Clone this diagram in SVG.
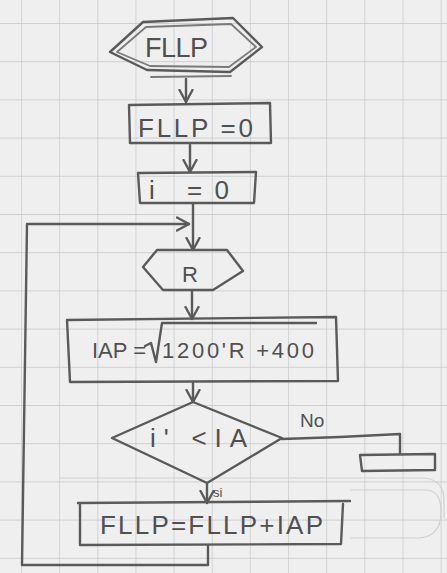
<svg xmlns="http://www.w3.org/2000/svg" width="447" height="573" viewBox="0 0 447 573">
  <defs>
    <pattern id="grid" x="21" y="23" width="38.15" height="38.2" patternUnits="userSpaceOnUse">
      <path d="M0 0 V38.2 M0 0 H38.15" fill="none" stroke="#c3c5c7" stroke-width="1.3"/>
    </pattern>
    <marker id="head" viewBox="0 0 14 16" refX="13" refY="8" markerWidth="14" markerHeight="16" markerUnits="userSpaceOnUse" orient="auto">
      <path d="M1 1.5 L13 8 L1 14.5" fill="none" stroke="#5a5a5a" stroke-width="2.4" stroke-linecap="round" stroke-linejoin="round"/>
    </marker>
  </defs>
  <style>
    .ink { fill: none; stroke: #5a5a5a; stroke-width: 2.4; stroke-linecap: round; stroke-linejoin: round; }
    .ink2 { fill: none; stroke: #7a7a7a; stroke-width: 1.8; stroke-linecap: round; stroke-linejoin: round; }
    .lbl { font-family: "Liberation Sans", "DejaVu Sans", sans-serif; fill: #505050; }
  </style>

  <!-- paper -->
  <rect width="447" height="573" fill="#efefef"/>
  <rect width="447" height="573" fill="url(#grid)"/>
  <path d="M60 478 H424 Q444 480 444 500 V518" fill="none" stroke="#d2d2d2" stroke-width="1.2"/>
  <path d="M350 490 H428 Q441 492 441 512 Q441 536 420 538 H350" fill="none" stroke="#d0d0d0" stroke-width="1.2"/>

  <!-- connectors -->
  <g id="connectors">
    <path class="ink" d="M186 79 V102" marker-end="url(#head)"/>
    <path class="ink" d="M190 145 V172" marker-end="url(#head)"/>
    <path class="ink" d="M193 204 V250" marker-end="url(#head)"/>
    <path class="ink" d="M192 291 V319" marker-end="url(#head)"/>
    <path class="ink" d="M193 383 V402" marker-end="url(#head)"/>
    <path class="ink" d="M207 484 V503" marker-end="url(#head)"/>
    <!-- loop back to the read step -->
    <path class="ink" d="M208 546 V565 H22 L27 224 H189" marker-end="url(#head)"/>
    <!-- "No" branch -->
    <path class="ink" d="M282 439 L340 437 L400 434 V453"/>
    <text class="lbl" x="300" y="427" font-size="19">No</text>
    <text class="lbl" x="213" y="497" font-size="13">si</text>
  </g>

  <!-- start: FLLP -->
  <g id="start">
    <path class="ink" d="M143 22 L233 18 L262 47 L230 72 L147 70 L110 52 Z"/>
    <path class="ink2" d="M146 27 L231 24 L256 47 L229 67 L150 66 L117 52 Z"/>
    <path class="ink2" d="M151 77 L231 76"/>
    <text class="lbl" x="145" y="57" font-size="27" textLength="63" lengthAdjust="spacing">FLLP</text>
  </g>

  <!-- FLLP = 0 -->
  <g id="init-total">
    <path class="ink" d="M129 105 L270 103 L271 143 L130 143 Z"/>
    <text class="lbl" x="138" y="137" font-size="26" textLength="115" lengthAdjust="spacing">FLLP =0</text>
  </g>

  <!-- i = 0 -->
  <g id="init-counter">
    <path class="ink" d="M138 173 L256 172 L254 203 L140 203 Z"/>
    <text class="lbl" x="149" y="199" font-size="26" textLength="80" lengthAdjust="spacing">i =0</text>
  </g>

  <!-- read R -->
  <g id="read-r">
    <path class="ink" d="M157 250 L227 250 L243 271 L213 290 L163 290 L143 267 Z"/>
    <text class="lbl" x="190" y="282" font-size="22" text-anchor="middle">R</text>
  </g>

  <!-- IAP = sqrt(1200 R + 400) -->
  <g id="compute-iap">
    <path class="ink" d="M67 320 L336 317 L338 381 L70 382 Z"/>
    <text class="lbl" x="92" y="358" font-size="22" textLength="54" lengthAdjust="spacing">IAP =</text>
    <path class="ink" d="M145 346 L151 343 L156 362 L162 323 H316"/>
    <text class="lbl" x="162" y="358" font-size="22" textLength="152" lengthAdjust="spacing">1200'R +400</text>
  </g>

  <!-- decision i < IA -->
  <g id="check">
    <path class="ink" d="M193 402 L282 438 L207 483 L112 438 Z"/>
    <text class="lbl" x="150" y="447" font-size="26" textLength="97" lengthAdjust="spacing">i' &lt;IA</text>
  </g>

  <!-- end marker of the No branch -->
  <g id="exit">
    <path class="ink" d="M360 455 L435 454 L435 470 L362 471 Z"/>
  </g>

  <!-- FLLP = FLLP + IAP -->
  <g id="accumulate">
    <path class="ink" d="M78 503 L350 501 M80 504 L80 545 L341 544 L343 504"/>
    <text class="lbl" x="100" y="534" font-size="26" textLength="223" lengthAdjust="spacing">FLLP=FLLP+IAP</text>
  </g>
</svg>
